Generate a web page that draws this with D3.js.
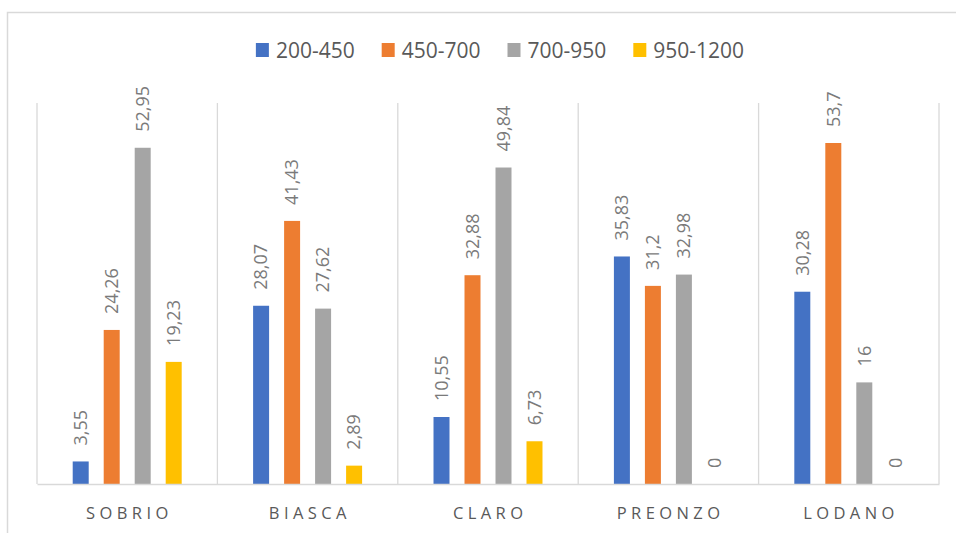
<!DOCTYPE html>
<html>
<head>
<meta charset="utf-8">
<script src="https://cdn.jsdelivr.net/npm/d3@7/dist/d3.min.js"></script>
<style>
  html, body { margin: 0; padding: 0; background: #fff; }
  svg { display: block; }
  text { font-family: "Open Sans", "Segoe UI", sans-serif; }
</style>
</head>
<body>
<svg id="chart" width="956" height="533"></svg>
<script>
// Sites along the valley and altitude bands (m)
const categories = ["SOBRIO", "BIASCA", "CLARO", "PREONZO", "LODANO"];
const seriesNames = ["200-450", "450-700", "700-950", "950-1200"];
const seriesColors = ["#4472C4", "#ED7D31", "#A5A5A5", "#FFC000"];

// Share (%) per altitude band for each site
const band200_450  = [3.55, 28.07, 10.55, 35.83, 30.28];
const band450_700  = [24.26, 41.43, 32.88, 31.2, 53.7];
const band700_950  = [52.95, 27.62, 49.84, 32.98, 16];
const band950_1200 = [19.23, 2.89, 6.73, 0, 0];
const seriesValues = [band200_450, band450_700, band700_950, band950_1200];

const yMax = 60;

const svg = d3.select("#chart");
const W = 956, H = 533;
const plot = { left: 37, right: 939, top: 103, bottom: 484 };

// Outer frame of the chart area
svg.append("rect")
  .attr("x", 7.5).attr("y", 12.5)
  .attr("width", W + 20).attr("height", H + 20)
  .attr("fill", "#fff").attr("stroke", "#d9d9d9").attr("stroke-width", 1.5);

const x0 = d3.scaleBand().domain(categories).range([plot.left, plot.right]).padding(0);
const x1 = d3.scaleBand().domain(seriesNames).range([0, x0.bandwidth()])
  .paddingInner(0.484).paddingOuter(1.152);
const y = d3.scaleLinear().domain([0, yMax]).range([plot.bottom, plot.top]);

// Vertical separators between categories
const seps = categories.map(c => x0(c)).concat([plot.right]);
svg.append("g").selectAll("line").data(seps).join("line")
  .attr("x1", d => d).attr("x2", d => d)
  .attr("y1", y(yMax)).attr("y2", y(0))
  .attr("stroke", "#d9d9d9").attr("stroke-width", 1.3);

// Bars
const rows = [];
categories.forEach((c, ci) => {
  seriesNames.forEach((s, si) => {
    rows.push({ cat: c, series: s, si, value: seriesValues[si][ci] });
  });
});

const g = svg.append("g");
g.selectAll("rect").data(rows).join("rect")
  .attr("x", d => x0(d.cat) + x1(d.series))
  .attr("y", d => y(d.value))
  .attr("width", x1.bandwidth())
  .attr("height", d => y(0) - y(d.value))
  .attr("fill", d => seriesColors[d.si]);

// Value labels, rotated above each bar
const fmt = v => String(v).replace(".", ",");
g.selectAll("text.val").data(rows).join("text")
  .attr("class", "val")
  .attr("transform", d => {
    const cx = x0(d.cat) + x1(d.series) + x1.bandwidth() / 2;
    return `translate(${cx},${y(d.value) - 16}) rotate(-90)`;
  })
  .attr("dy", "0.35em")
  .attr("text-anchor", "start")
  .attr("font-size", 18)
  .attr("fill", "#7a7a7a")
  .text(d => fmt(d.value));

// Baseline
const xAxis = svg.append("g")
  .attr("transform", `translate(0,${plot.bottom})`)
  .call(d3.axisBottom(x0).tickSize(0).tickPadding(0));
xAxis.select(".domain").attr("stroke", "#d9d9d9").attr("stroke-width", 1.5);
xAxis.selectAll(".tick text")
  .attr("font-family", "'Open Sans', sans-serif")
  .attr("font-size", 16.5)
  .attr("fill", "#595959")
  .attr("letter-spacing", "4.4px")
  .attr("dx", "2.2px")
  .attr("dy", 0)
  .attr("y", 35);

// Legend
const legend = svg.append("g");
const items = legend.selectAll("g").data(seriesNames).join("g");
items.append("rect")
  .attr("width", 13).attr("height", 14)
  .attr("y", 43)
  .attr("fill", (d, i) => seriesColors[i]);
items.append("text")
  .attr("x", 20).attr("y", 57.5)
  .attr("font-size", 21)
  .attr("fill", "#595959")
  .text(d => d);
let cursor = 0;
const offsets = [];
items.each(function () {
  offsets.push(cursor);
  const tw = d3.select(this).select("text").node().getComputedTextLength();
  cursor += 20 + tw + 27;
});
const total = cursor - 27;
const startX = 500 - total / 2;
items.attr("transform", (d, i) => `translate(${startX + offsets[i]},0)`);
</script>
</body>
</html>
